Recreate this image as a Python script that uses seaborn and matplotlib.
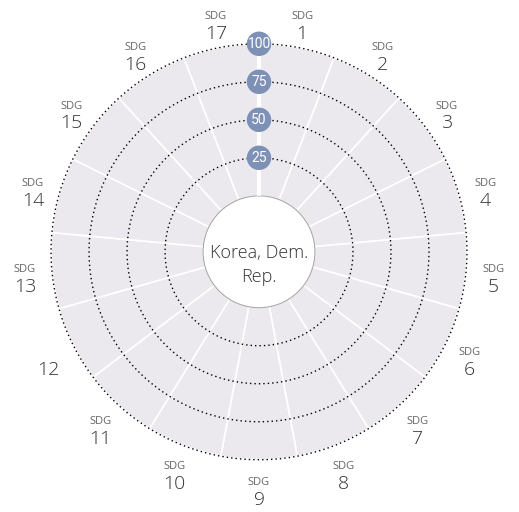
import numpy as np
import pandas as pd
import matplotlib
matplotlib.use("Agg")
import matplotlib.pyplot as plt
import seaborn as sns

# SDG goals and the country's scores (no scores are reported for this country)
country = "Korea, Dem.\nRep."
goals = list(range(1, 18))
goal_prefix = ["SDG"] * 11 + [""] + ["SDG"] * 5
scores = [np.nan] * 17
ring_values = [25, 50, 75, 100]

sns.set_theme(style="white")
plt.rcParams["font.family"] = ["Open Sans", "DejaVu Sans"]

fig = plt.figure(figsize=(5.19, 5.12), dpi=100)
ax = fig.add_axes([0.0983, 0.102, 0.8015, 0.8125], projection="polar")
ax.set_theta_zero_location("N")
ax.set_theta_direction(-1)
ax.set_ylim(0, 100)
ax.set_rorigin(-36.8)
ax.set_facecolor("white")
ax.patch.set_linewidth(0)
ax.grid(False)
for name, spine in ax.spines.items():
    spine.set_visible(False)
# the inner spine is switched back on by PolarAxes when the hole is non-empty,
# so style it as the thin grey outline of the white hub
ax.spines["inner"].set_edgecolor("#a8a8a8")
ax.spines["inner"].set_linewidth(0.8)
ax.set_xticks([])
ax.set_yticks([])

n = len(goals)
width = 2 * np.pi / n
theta = np.arange(n) * width + width / 2

# sector backgrounds
ax.bar(theta, [100] * n, width=width, bottom=0, color="#ece9ee",
       edgecolor="white", linewidth=1.2, zorder=1)
# score bars (only goals with a reported score are drawn)
have = ~pd.isna(scores)
if have.any():
    ax.bar(theta[have], np.asarray(scores)[have], width=width, bottom=0,
           color="#4f6fa8", edgecolor="white", linewidth=1.2, zorder=2)

# dotted reference rings
circle = np.linspace(0, 2 * np.pi, 721)
for v in ring_values:
    ax.plot(circle, np.full_like(circle, v), color="black",
            linestyle=(0, (1, 2.2)), linewidth=1.0, zorder=3, clip_on=False)

# scale axis and badges
ax.plot([0, 0], [0, 100], color="white", linewidth=3, zorder=3)
badges = pd.DataFrame({"theta": [0.0] * len(ring_values), "r": ring_values})
sns.scatterplot(data=badges, x="theta", y="r", ax=ax, s=310, color="#7d90b5",
                edgecolor="none", zorder=5, legend=False, clip_on=False)
for v in ring_values:
    ax.text(0, v, str(v), ha="center", va="center", color="white",
            fontsize=10, family=["Roboto", "Open Sans"],
            zorder=6, clip_on=False)
ax.set_xlabel("")
ax.set_ylabel("")

# goal labels
label_r = 117.8
for t, g, p in zip(theta, goals, goal_prefix):
    if p:
        ax.annotate(p, xy=(t, label_r), xytext=(0, 2.9), textcoords="offset points",
                    ha="center", va="center", fontsize=8, color="#666666",
                    annotation_clip=False)
    ax.annotate(str(g), xy=(t, label_r), xytext=(0, -9.4), textcoords="offset points",
                ha="center", va="center", fontsize=14, color="#333333",
                fontweight="light", annotation_clip=False)

# country name in the centre
ax.text(0.5, 0.5 - 13 / 416, country, transform=ax.transAxes, ha="center",
        va="center", fontsize=13, color="#333333", linespacing=1.45,
        fontweight="light", zorder=11)

fig.savefig("out.png", dpi=100, facecolor="white")
